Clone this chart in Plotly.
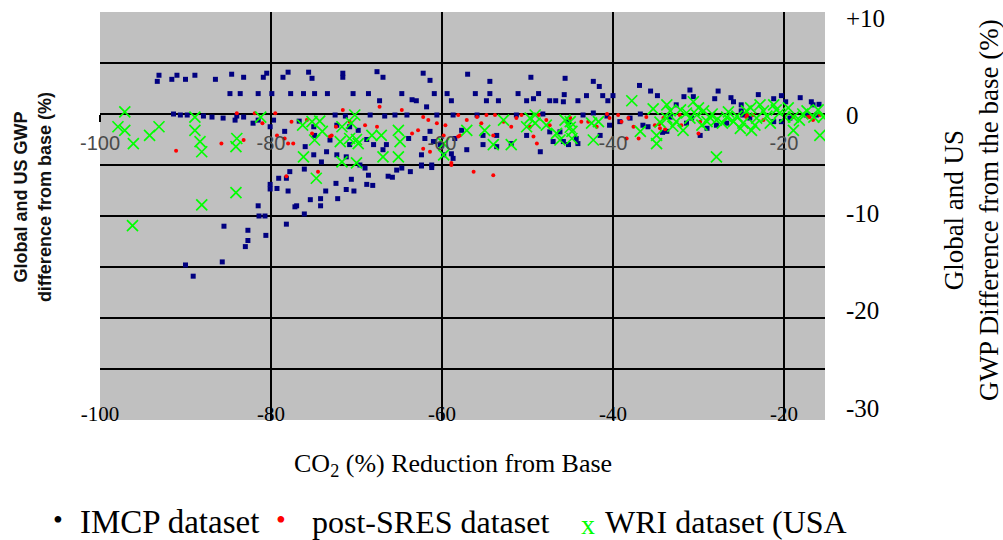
import plotly.graph_objects as go

# ---------------- data ----------------
imcp_x = [-93.3, -93.1, -91.6, -91.0, -90.0, -88.9, -86.5, -84.6, -83.2, -80.9, -80.5, -78.6, -78.0, -75.6, -75.2,
          -84.8, -83.6, -81.5, -79.9, -77.7, -76.2, -74.9, -73.4,
          -91.4, -90.6, -89.8, -87.9, -86.9, -85.6, -84.0, -84.2, -83.2, -82.1, -81.5, -80.1, -79.7, -78.4, -76.7, -75.0,
          -76.0, -74.9, -73.1, -73.5, -74.1, -75.0,
          -77.8, -78.2, -79.1, -80.1, -79.3, -80.1, -78.0, -81.5, -81.4, -80.7, -77.0, -77.2, -75.4, -76.1, -78.2, -80.6,
          -82.7, -82.7, -83.0, -85.5, -85.7, -90.0, -89.1, -74.2, -74.2, -73.6, -72.4, -72.2, -71.2, -70.6, -70.3, -68.6,
          -68.8, -68.1, -66.3, -65.8, -65.3, -64.7, -63.7, -62.4, -61.2, -76.1, -69.0,
          -71.6, -71.6, -67.6, -66.9, -62.2, -61.4, -57.0, -54.4, -49.6, -45.6,
          -70.4, -68.6, -64.7, -63.5, -63.0, -67.3, -60.9, -59.4, -58.9, -56.1, -54.4, -54.8, -53.4, -51.1, -50.1, -49.3,
          -48.7, -47.4, -46.7, -45.8, -61.8,
          -72.5, -71.3, -68.4, -66.7, -65.5, -64.1, -60.6, -58.7, -55.9, -72.3, -70.8, -69.8, -68.0, -66.9, -66.5, -68.8,
          -70.8, -72.3, -71.2, -69.6, -63.9, -62.4, -62.0, -61.4, -61.0, -60.2, -62.4, -61.2, -59.8, -58.7, -58.5, -58.9,
          -57.7, -57.1, -55.2, -55.2, -53.6, -53.6, -51.9, -50.1, -48.5, -47.4, -46.2, -45.2, -47.0,
          -51.3, -48.2, -43.5, -40.7, -38.0, -36.5, -34.2,
          -45.7, -44.1, -43.1, -42.3, -41.6, -41.2, -40.6, -40.0, -36.9, -35.6, -34.8, -31.0, -30.6, -31.7, -32.6, -28.1,
          -27.7, -26.2, -25.9, -25.0, -23.0, -21.2, -20.3, -19.8, -18.1, -16.8, -16.6, -15.9, -25.0,
          -45.8, -45.2, -44.3, -44.1, -41.5, -40.4, -39.2, -35.9, -33.7, -31.4, -29.8, -29.0, -27.9, -26.7, -24.8, -24.0,
          -21.2, -20.3, -19.3, -17.4, -16.2, -42.3, -36.8, -33.3, -30.8]
imcp_y = [3.2, 3.8, 3.4, 3.8, 3.4, 3.8, 3.4, 3.9, 3.6, 3.6, 4.0, 3.6, 4.1, 4.1, 3.5,
          2.0, 2.0, 2.0, 2.0, 2.0, 2.0, 2.0, 2.0,
          0.0, -0.1, -0.1, -0.2, -0.3, -0.4, -0.2, -0.6, -0.3, -0.9, -0.6, -1.25, -0.6, -1.7, -0.7, -1.25,
          -3.2, -2.1, -2.55, -3.7, -4.7, -4.0,
          -5.65, -6.3, -6.3, -6.9, -7.3, -7.35, -7.55, -9.0, -10.0, -10.0, -9.0, -9.1, -8.4, -9.8, -10.8, -11.9,
          -11.4, -12.4, -13.0, -11.0, -14.5, -14.8, -15.9, -8.3, -9.0, -7.55, -6.8, -8.3, -7.4, -6.4, -7.55, -6.0,
          -6.9, -7.0, -6.1, -6.2, -5.5, -5.3, -5.65, -5.1, -5.25, -5.4, -5.3,
          4.0, 3.6, 4.15, 3.6, 4.0, 3.3, 3.9, 3.2, 3.6, 3.5,
          2.0, 2.0, 2.0, 1.4, 1.3, 1.3, 2.0, 2.0, 1.3, 2.0, 2.0, 1.3, 1.3, 2.0, 1.3, 1.5,
          2.0, 1.3, 1.3, 1.2, 0.7,
          -0.1, -0.2, -0.1, -0.2, -0.1, -0.1, -0.1, -0.1, -0.1, -1.1, -1.25, -1.6, -3.0, -3.5, -3.0, -2.5,
          -3.0, -4.0, -4.2, -5.0, -2.4, -4.0, -2.4, -1.7, -2.7, -3.0, -5.0, -5.0, -4.0, -4.35, -2.4, -3.9,
          -1.6, -3.5, -2.1, -3.0, -2.1, -3.2, -2.9, -2.1, -3.7, -1.75, -1.75, -0.75, -2.7,
          -0.1, 0.0, -0.1, -0.2, -0.4, -1.1, -1.8,
          1.9, 1.3, 1.8, 3.2, 2.7, 1.8, 1.3, 1.8, 2.8, 2.25, 1.8, 2.35, 1.7, 1.7, 0.9, 1.5,
          2.25, 1.6, 1.2, 0.9, 1.9, 1.5, 1.8, 1.2, 1.6, 1.2, 0.9, 0.95, 0.3,
          -2.7, -3.0, -2.4, -2.9, -2.1, -1.1, -0.75, -1.25, -1.7, -0.9, -2.1, -1.4, -1.1, -0.9, -0.1, -0.4,
          -0.75, -0.75, -0.4, -0.1, -0.1, 0.1, 0.0, -0.3, -0.4]

sres_x = [-84.0, -81.9, -79.5, -81.0, -85.8, -91.1, -83.2, -79.3, -78.4, -77.6, -77.4, -78.0, -75.2, -73.1, -74.5,
          -72.4, -75.8, -78.2, -58.9,
          -71.6, -67.3, -64.7, -62.2, -61.6, -60.6, -59.6, -62.8, -63.5, -61.4, -62.2, -59.8, -58.1, -57.1, -55.9, -54.8,
          -53.8, -55.4, -54.0, -56.3, -54.0, -52.8, -51.9, -51.3, -50.7, -49.7, -49.3, -48.9, -48.7, -47.8, -47.4, -58.1,
          -58.9, -57.9, -70.8, -69.0, -72.9, -67.6,
          -45.0, -42.9, -41.9, -40.7, -40.4, -39.4, -39.0, -38.2, -37.6, -37.0, -36.1, -35.1, -34.5, -34.1, -32.2, -32.0,
          -29.8, -30.0, -24.4, -23.6, -22.4, -18.9, -17.2, -16.6, -15.8, -38.4, -43.7, -34.6, -33.9, -24.3, -17.0]
sres_y = [0.07, 0.07, 0.07, -0.9, -2.9, -3.6, -2.55, -2.1, -2.4, -0.75, -2.9, -2.9, -1.9, -2.2, -5.65,
          -1.25, -0.6, -6.1, -5.0,
          0.4, 0.7, 0.4, -0.3, -0.6, -0.9, -1.1, -1.6, -1.9, -3.7, -3.4, -2.1, -0.1, -0.6, -0.3, -0.1,
          -0.1, -0.9, -2.1, -5.65, -6.0, -0.75, -1.25, -0.4, -0.1, -1.25, -2.2, -2.9, -0.1, -0.6, -1.1, -2.2,
          -4.8, -2.1, -0.75, -1.1, -2.1, -1.25,
          -0.4, -0.75, -1.25, 0.0, -0.4, -0.1, -0.75, -0.4, -1.25, -2.4, -0.3, -1.1, -1.4, -0.4, -0.1, -1.1,
          -0.75, -1.9, -0.3, -0.1, -0.6, -0.3, -0.3, -0.6, -0.1, -2.4, -0.75, -1.0, -1.5, -0.1, -0.3]

wri_x = [-97.1, -97.9, -97.1, -96.1, -94.2, -93.1, -88.9, -88.9, -88.3, -88.1, -84.0, -84.1, -81.2, -76.3, -75.2,
         -74.3, -74.9, -74.0, -76.2, -74.7, -96.2, -88.1, -84.1,
         -71.7, -70.6, -70.2, -71.9, -70.0, -69.8, -68.2, -67.1, -65.1, -64.9, -66.9, -65.1, -71.7, -70.0, -59.8, -59.8,
         -57.1, -55.0, -54.0, -51.9, -52.8, -50.1, -49.1, -49.1, -47.8, -46.6, -46.2, -45.6, -70.8, -49.7, -45.0,
         -45.0, -44.8, -44.8, -42.3, -42.5, -41.7, -37.8, -36.8, -34.9, -34.9, -33.7, -33.3, -33.7, -32.6, -31.8, -30.6,
         -30.2, -29.4, -28.7, -27.9, -29.0, -27.9, -25.9, -25.1, -23.8, -23.4, -22.8, -22.4, -21.2, -20.5, -18.9, -18.9,
         -17.3, -15.8, -15.4, -24.4, -31.4, -26.7,
         -35.3, -34.5, -33.0, -32.1, -31.0, -30.0, -29.6, -28.4, -27.2, -26.5, -23.9, -23.2, -22.0, -21.6, -20.9, -19.9,
         -19.5, -18.2, -17.8, -16.5, -16.0, -24.8, -25.5]
wri_y = [0.2, -1.25, -1.6, -2.9, -2.1, -1.25, -0.3, -1.6, -2.7, -3.7, -2.4, -3.2, -0.3, -1.1, -0.75,
         -0.7, -2.55, -1.7, -4.2, -6.3, -10.95, -8.9, -7.7,
         -1.25, -0.9, -0.1, -2.7, -2.5, -2.9, -2.1, -2.1, -1.6, -2.7, -4.2, -4.2, -4.7, -4.8, -4.0, -2.9,
         -1.6, -1.6, -3.0, -3.0, -0.6, -1.25, -0.1, -0.9, -1.1, -1.9, -2.55, -0.6, -2.4, -0.4, -1.3,
         -0.75, -1.7, -2.4, -2.55, -0.9, -0.75, 1.3, -1.7, -2.9, -2.1, 0.9, 0.3, -0.4, -0.75, -1.6, 1.2,
         -0.1, 0.3, -0.3, -0.6, -0.75, -4.2, -0.75, -1.4, -1.6, -1.1, 0.9, 0.3, 0.9, 0.1, -0.3, -1.6,
         0.3, -2.1, -0.3, 0.3, 0.1, -0.3,
         0.5, -0.8, -1.2, 0.4, -0.4, 0.6, -1.1, 0.0, -0.9, 0.2, 0.6, -0.4, -0.2, -0.9, 0.4, -0.3,
         0.6, -0.6, 0.0, -0.3, 0.4, -0.9, -0.2]

x_range = [-100, -15.2]
y_range = [-30, 10]
grid_x = [-80, -60, -40, -20]
grid_y = [5, 0, -5, -10, -15, -20, -25]
x_ticks = [-100, -80, -60, -40, -20]
x_ticktext = ["-100", "-80", "-60", "-40", "-20"]
right_ticks = [10, 0, -10, -20, -30]
right_ticktext = ["+10", "0", "-10", "-20", "-30"]
right_range = [-31.2, 10.6]

SERIF = "Liberation Serif"
SANS = "Liberation Sans"

fig = go.Figure()
fig.add_trace(go.Scatter(x=imcp_x, y=imcp_y, mode="markers", name="IMCP dataset",
                         marker=dict(symbol="square", size=5, color="#000080", line=dict(width=0))))
fig.add_trace(go.Scatter(x=sres_x, y=sres_y, mode="markers", name="post-SRES dataset",
                         marker=dict(symbol="circle", size=4, color="#ff0000", line=dict(width=0))))
fig.add_trace(go.Scatter(x=wri_x, y=wri_y, mode="markers", name="WRI dataset (USA)",
                         marker=dict(symbol="x-thin", size=11, color="#00ff00",
                                     line=dict(width=1.7, color="#00ff00"))))
# empty traces so the extra label axes get drawn
fig.add_trace(go.Scatter(x=[None], y=[None], xaxis="x2", yaxis="y", hoverinfo="skip"))
fig.add_trace(go.Scatter(x=[None], y=[None], xaxis="x3", yaxis="y", hoverinfo="skip"))
fig.add_trace(go.Scatter(x=[None], y=[None], xaxis="x", yaxis="y2", hoverinfo="skip"))

fig.update_layout(
    width=1003, height=540,
    margin=dict(l=100, r=178, t=12, b=120, autoexpand=False),
    paper_bgcolor="white", plot_bgcolor="#c0c0c0",
    showlegend=False,
    xaxis=dict(range=x_range, tickvals=grid_x, showgrid=True, gridcolor="black", gridwidth=2,
               showticklabels=False, ticks="", zeroline=False, showline=False, automargin=False),
    xaxis2=dict(range=x_range, overlaying="x", anchor="free", position=0.75, side="bottom",
                tickvals=x_ticks, ticktext=x_ticktext, showgrid=False, zeroline=False, showline=False,
                ticks="outside", ticklen=7, tickwidth=2, tickcolor="black", automargin=False,
                tickfont=dict(family=SANS, size=20, color="#4a4a4a"), ticklabelstandoff=4),
    xaxis3=dict(range=x_range, overlaying="x", anchor="y", side="bottom", automargin=False,
                tickvals=x_ticks, ticktext=x_ticktext, showgrid=False, zeroline=False, showline=False,
                ticks="", tickfont=dict(family=SERIF, size=21, color="black"), ticklabelstandoff=-21),
    yaxis=dict(range=y_range, tickvals=grid_y, showgrid=True, gridcolor="black", gridwidth=2,
               zeroline=False, showline=False, ticks="", showticklabels=False, automargin=False),
    yaxis2=dict(range=right_range, overlaying="y", anchor="x", side="right", automargin=False,
                tickvals=right_ticks, ticktext=right_ticktext, showgrid=False, zeroline=False,
                showline=False, ticks="", tickfont=dict(family=SERIF, size=25, color="black"),
                ticklabelstandoff=20),
)


def note(text, x, y, size, color="black", family=SERIF, xanchor="center", angle=0):
    return dict(text=text, x=x, y=y, xref="paper", yref="paper", xanchor=xanchor, yanchor="middle",
                textangle=angle, showarrow=False, align="center",
                font=dict(family=family, size=size, color=color))


ann = [
    note("<b>Global and US GWP<br>difference from base (%)</b>", -0.092, 0.547, 18, "#111111", SANS, angle=-90),
    note("Global and US<br>GWP Difference from the base (%)", 1.2028, 0.515, 27, angle=-90),
    note("CO<sub>2</sub> (%) Reduction from Base", 0.487, -0.11, 26),
    note("•", -0.058, -0.245, 28),
    note("IMCP dataset", -0.031, -0.25, 33, xanchor="left"),
    note("•", 0.2497, -0.245, 28, "#ff0000"),
    note("post-SRES dataset", 0.2897, -0.25, 32, xanchor="left"),
    note("x", 0.6731, -0.255, 28, "#00ff00"),
    note("WRI dataset (USA", 0.6938, -0.25, 32, xanchor="left"),
]
fig.update_layout(annotations=ann)

fig.write_html("out.html")
